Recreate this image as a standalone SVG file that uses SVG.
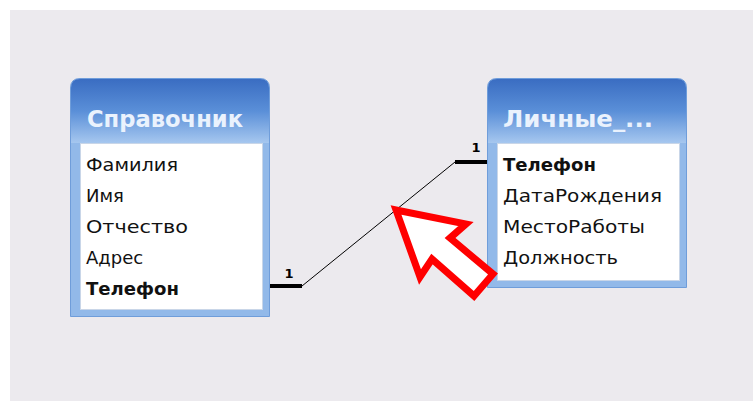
<svg xmlns="http://www.w3.org/2000/svg" width="753" height="401" viewBox="0 0 753 401">
<defs>
<linearGradient id="hdr" x1="0" y1="0" x2="0" y2="1">
<stop offset="0" stop-color="#3a6dc2"/>
<stop offset="0.5" stop-color="#5a8fd8"/>
<stop offset="1" stop-color="#a6c7ef"/>
</linearGradient>
<style>
.frame{fill:#92b9e9;stroke:#6f9dda;stroke-width:1}
.hdr{fill:url(#hdr)}
.list{fill:#ffffff;stroke:#c9d6e8;stroke-width:1}
.title{font-family:"DejaVu Sans","Liberation Sans",sans-serif;font-weight:bold;font-size:23px;fill:#eaf2fd}
.fld{font-family:"DejaVu Sans","Liberation Sans",sans-serif;font-size:18px;fill:#111111}
.key{font-weight:bold}
.one{font-family:"DejaVu Sans","Liberation Sans",sans-serif;font-weight:bold;font-size:13px;fill:#000000}
</style>
</defs>
<rect x="0" y="0" width="753" height="401" fill="#ffffff"/>
<rect x="10" y="10" width="743" height="391" fill="#eceaee"/>

<g id="node-spravochnik">
<path class="frame" d="M70.5,316.5 V88 Q70.5,78.5 80,78.5 H260 Q269.5,78.5 269.5,88 V316.5 Z"/>
<path class="hdr" d="M71,143 V88 Q71,79 80,79 H260 Q269,79 269,88 V143 Z"/>
<rect class="list" x="80.5" y="143.5" width="182" height="166"/>
<text class="title" x="87" y="127" textLength="156" lengthAdjust="spacingAndGlyphs">Справочник</text>
<text class="fld" x="86" y="171" textLength="92" lengthAdjust="spacingAndGlyphs">Фамилия</text>
<text class="fld" x="86" y="202">Имя</text>
<text class="fld" x="86" y="233" textLength="102" lengthAdjust="spacingAndGlyphs">Отчество</text>
<text class="fld" x="86" y="264">Адрес</text>
<text class="fld key" x="86" y="295" textLength="93" lengthAdjust="spacingAndGlyphs">Телефон</text>
</g>

<g id="node-lichnye">
<path class="frame" d="M487.5,287.5 V88 Q487.5,78.5 497,78.5 H677 Q686.5,78.5 686.5,88 V287.5 Z"/>
<path class="hdr" d="M488,143 V88 Q488,79 497,79 H677 Q686,79 686,88 V143 Z"/>
<rect class="list" x="497.5" y="143.5" width="182" height="137"/>
<text class="title" x="503" y="127" textLength="150" lengthAdjust="spacingAndGlyphs">Личные_...</text>
<text class="fld key" x="503" y="171" textLength="93" lengthAdjust="spacingAndGlyphs">Телефон</text>
<text class="fld" x="503" y="202" textLength="159" lengthAdjust="spacingAndGlyphs">ДатаРождения</text>
<text class="fld" x="503" y="233" textLength="142" lengthAdjust="spacingAndGlyphs">МестоРаботы</text>
<text class="fld" x="503" y="264" textLength="115" lengthAdjust="spacingAndGlyphs">Должность</text>
</g>

<g id="connectors">
<rect x="270" y="284" width="32" height="4" fill="#000000"/>
<rect x="455" y="160" width="32" height="4" fill="#000000"/>
<line x1="302" y1="286" x2="455" y2="162" stroke="#000000" stroke-width="1"/>
<text class="one" x="289" y="278" text-anchor="middle">1</text>
<text class="one" x="476" y="152" text-anchor="middle">1</text>
</g>

<polygon points="396,210 466,224 450,238 493,274 474,296 432,259 420,277" fill="#ffffff" stroke="#ff0000" stroke-width="7" stroke-linejoin="miter" stroke-miterlimit="10"/>
</svg>
